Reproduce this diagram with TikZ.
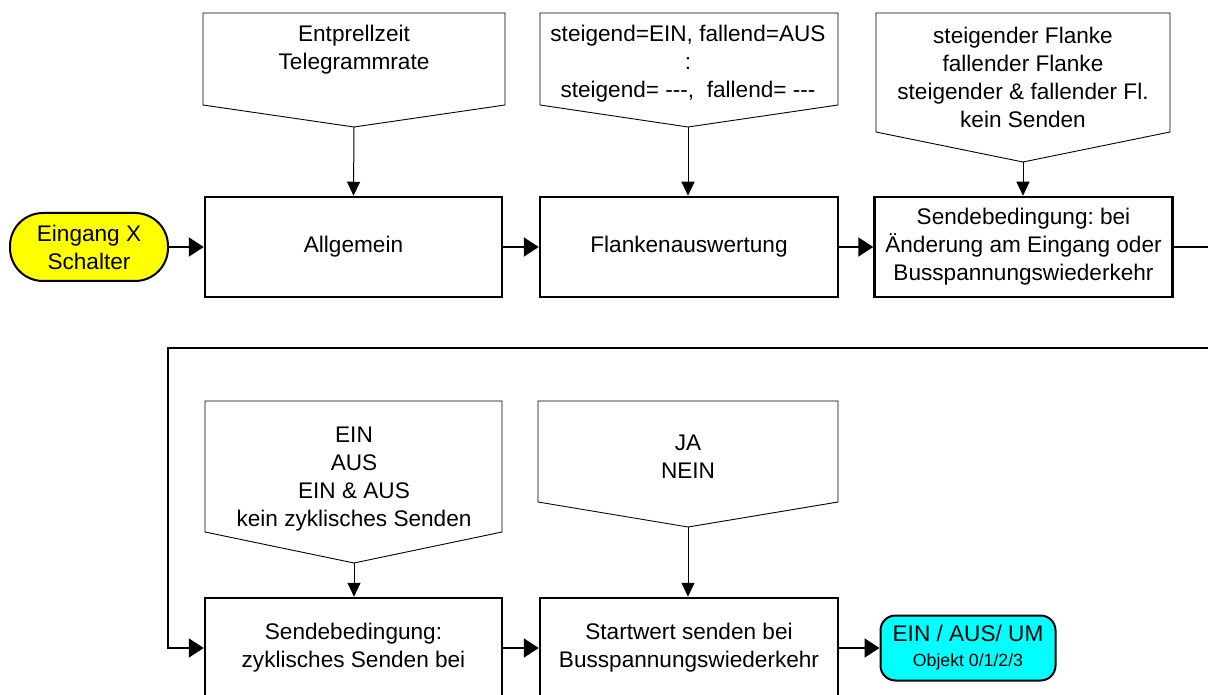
\documentclass[tikz,border=0pt]{standalone}
\usepackage{fontspec}
\setmainfont{Liberation Sans}
\usetikzlibrary{arrows.meta}
\definecolor{termyellow}{RGB}{255,255,0}
\definecolor{termcyan}{RGB}{0,255,255}
\frenchspacing
\begin{document}
\begin{tikzpicture}[x=1pt,y=-1pt,
  txt/.style={font=\fontsize{22.6}{28}\selectfont,align=center,inner sep=0pt},
  box/.style={txt,draw,line width=2.5pt,minimum width=297pt,minimum height=100pt},
  callout/.style={draw,line width=0.9pt},
  flow/.style={line width=2pt,-{Triangle[length=15pt,width=19pt]}},
  plainflow/.style={line width=2pt},
  feed/.style={line width=1pt,-{Triangle[length=14pt,width=13pt]}}]
\useasboundingbox (0,0) rectangle (1208,695);
\clip (0,0) rectangle (1208,695);

% callouts top
\draw[callout] (203,13) -- (505,13) -- (505,105) -- (354,127) -- (203,105) -- cycle;
\coordinate (t1) at (354,127);
\node[txt] (c1) at (354,50) {Entprellzeit\\Telegrammrate};
\draw[callout] (540,13) -- (838,13) -- (838,105) -- (688,127) -- (540,105) -- cycle;
\coordinate (t2) at (688,127);
\node[txt] (c2) at (688,64) {steigend=EIN, fallend=AUS\\:\\steigend= -{}-{}-, \ fallend= -{}-{}-};
\draw[callout] (876,13) -- (1170,13) -- (1170,132) -- (1023,162) -- (876,132) -- cycle;
\coordinate (t3) at (1023,162);
\node[txt] (c3) at (1023,77) {steigender Flanke\\fallender Flanke\\steigender \& fallender Fl.\\kein Senden};

% callouts bottom
\draw[callout] (205,401) -- (502,401) -- (502,532) -- (354,563) -- (205,532) -- cycle;
\coordinate (t4) at (354,563);
\node[txt] (c4) at (354,479) {EIN\\AUS\\EIN \& AUS\\kein zyklisches Senden};
\draw[callout] (538,401) -- (838,401) -- (838,502) -- (688,527) -- (538,502) -- cycle;
\coordinate (t5) at (688,527);
\node[txt] (c5) at (688,457) {JA\\NEIN};

% nodes
\node[txt,draw,line width=2pt,fill=termyellow,minimum width=158pt,minimum height=68pt,rounded corners=33pt] (start) at (89,247) {Eingang X\\Schalter};
\node[box] (b1) at (353.5,247) {Allgemein};
\node[box,minimum width=298pt] (b2) at (689,247) {Flankenauswertung};
\node[box,minimum width=298pt] (b3) at (1023.5,247) {Sendebedingung: bei\\Änderung am Eingang oder\\Busspannungswiederkehr};
\node[box] (b4) at (353.5,648) {Sendebedingung:\\zyklisches Senden bei};
\node[box,minimum width=298pt] (b5) at (689,648) {Startwert senden bei\\Busspannungswiederkehr};
\node[txt,draw,line width=2pt,fill=termcyan,minimum width=175pt,minimum height=65pt,rounded corners=15pt] (end) at (968,648) {EIN / AUS/ UM\\[-3pt]{\fontsize{17.7}{20}\selectfont Objekt 0/1/2/3}};

% connectors
\draw[flow] (start) -- (b1);
\draw[flow] (b1) -- (b2);
\draw[flow] (b2) -- (b3);
\coordinate (exit) at (1212,247);
\coordinate (loopr) at (1212,348);
\coordinate (loopl) at (168,348);
\draw[plainflow] (b3.east) -- (exit);
\draw[flow] (loopr) -- (loopl) |- (b4.west);
\draw[flow] (b4) -- (b5);
\draw[flow] (b5) -- (end);

\draw[feed] (t1) -- (b1.north);
\draw[feed] (t2) -- (b2.north -| t2);
\draw[feed] (t3) -- (b3.north -| t3);
\draw[feed] (t4) -- (b4.north -| t4);
\draw[feed] (t5) -- (b5.north -| t5);
\end{tikzpicture}
\end{document}
